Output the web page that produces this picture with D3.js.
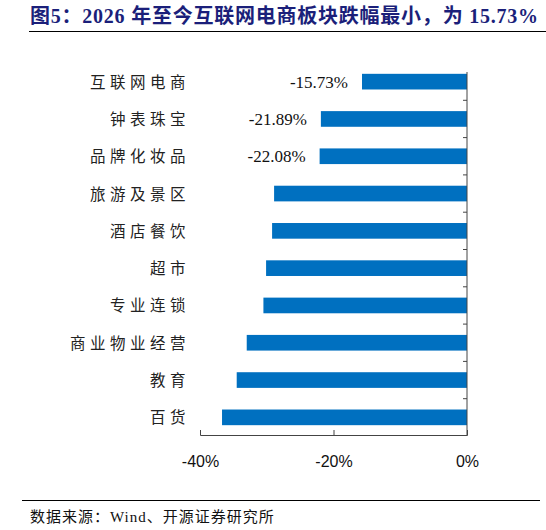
<!DOCTYPE html>
<html lang="en">
<head>
  <meta charset="UTF-8">
  <title>Bar</title>
  <style>
    body { margin: 0; background: #fff; }
    svg { font-family: "Liberation Serif", "Noto Sans CJK SC", serif; }
  </style>
</head>
<body>
  <div id="chart"></div>
  <script src="https://cdnjs.cloudflare.com/ajax/libs/d3/7.8.5/d3.min.js"></script>
  <script>
    const categories = ['互联网电商', '钟表珠宝', '品牌化妆品', '旅游及景区', '酒店餐饮', '超市', '专业连锁', '商业物业经营', '教育', '百货']
    const values = [-15.73, -21.89, -22.08, -28.9, -29.2, -30.1, -30.5, -33.0, -34.5, -36.7]
    const labelled = ['-15.73%', '-21.89%', '-22.08%']
    const ticks = [-40, -20, 0]

    const svg = d3.select('#chart').append('svg').attr('width', 546).attr('height', 530)

    svg.append('text').attr('x', 30).attr('y', 23)
      .attr('fill', '#1b1f7a').attr('font-weight', 'bold').attr('font-size', 20)
      .attr('textLength', 508).attr('lengthAdjust', 'spacing')
      .text('图5：2026 年至今互联网电商板块跌幅最小，为 15.73%')
    svg.append('line').attr('x1', 29).attr('x2', 546).attr('y1', 31.5).attr('y2', 31.5)
      .attr('stroke', '#000').attr('stroke-width', 1)

    const x = d3.scaleLinear().domain([-40, 0]).range([200, 467])
    const y = d3.scaleBand().domain(categories).range([63, 436]).paddingInner(0.58).paddingOuter(0.29)

    // bottom axis
    const xAxis = svg.append('g').attr('transform', 'translate(0,435)')
      .call(d3.axisBottom(x).tickValues(ticks).tickSize(-5).tickFormat(d => d + '%'))
    xAxis.select('.domain').attr('stroke', '#444')
    xAxis.selectAll('.tick line').attr('stroke', '#444')
    xAxis.selectAll('text').attr('font-size', 16).attr('dy', 0).attr('y', 32).attr('fill', '#111')

    // bars
    svg.selectAll('rect.bar').data(values).join('rect').attr('class', 'bar')
      .attr('x', d => x(d)).attr('width', d => x(0) - x(d))
      .attr('y', (d, i) => y(categories[i])).attr('height', y.bandwidth())
      .attr('fill', '#0070c0')

    // right vertical axis with ticks between categories
    const right = svg.append('g')
    right.append('line').attr('x1', x(0)).attr('x2', x(0)).attr('y1', 72).attr('y2', 435).attr('stroke', '#444')
    d3.range(1, categories.length).forEach(i => {
      const ty = y(categories[i]) - y.step() * y.paddingInner() / 2
      right.append('line').attr('x1', x(0) - 4).attr('x2', x(0))
        .attr('y1', ty).attr('y2', ty).attr('stroke', '#444')
    })

    // category labels
    svg.selectAll('text.cat').data(categories).join('text').attr('class', 'cat')
      .attr('x', 190).attr('y', d => y(d) + y.bandwidth() / 2 + 6)
      .attr('text-anchor', 'end').attr('font-size', 15.5).attr('fill', '#222')
      .attr('letter-spacing', 4.5)
      .text(d => d)

    // value labels
    svg.selectAll('text.val').data(labelled).join('text').attr('class', 'val')
      .attr('x', (d, i) => x(values[i]) - 14).attr('y', (d, i) => y(categories[i]) + y.bandwidth() / 2 + 6)
      .attr('text-anchor', 'end').attr('font-size', 17).attr('fill', '#111')
      .text(d => d)

    svg.append('line').attr('x1', 22).attr('x2', 540).attr('y1', 500.5).attr('y2', 500.5).attr('stroke', '#000')
    svg.append('text').attr('x', 30).attr('y', 522).attr('font-size', 15).attr('fill', '#111')
      .attr('letter-spacing', 1)
      .text('数据来源：Wind、开源证券研究所')
  </script>
</body>
</html>
